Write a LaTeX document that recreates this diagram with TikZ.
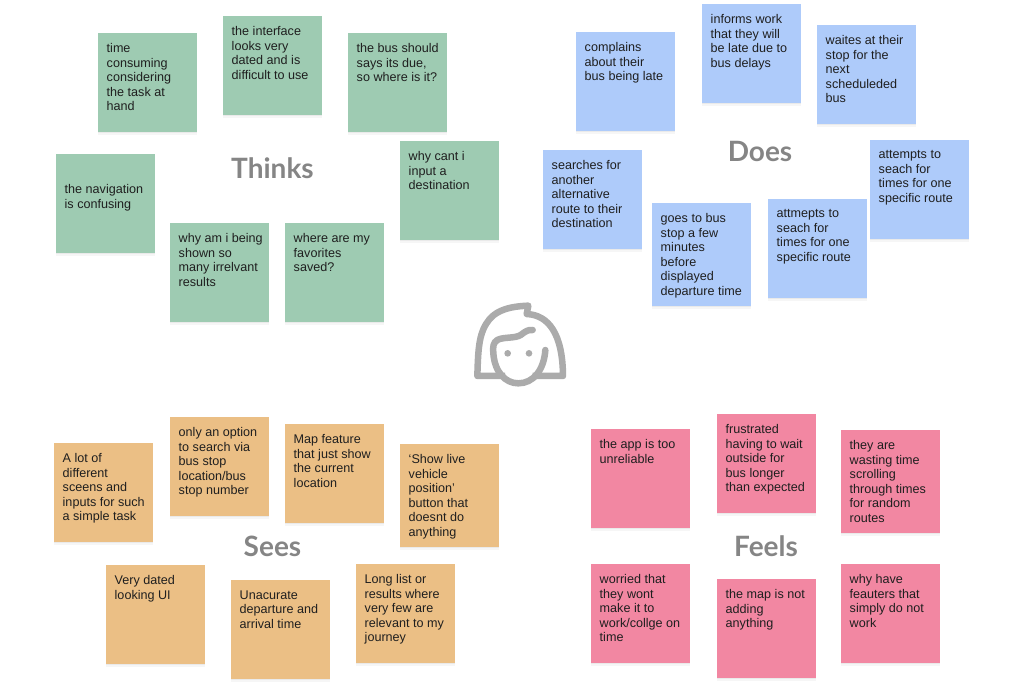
\documentclass[tikz,border=0pt]{standalone}
\usepackage{fontspec}
\setmainfont{Liberation Sans}
\newfontfamily\titlefont{Lato}
\usetikzlibrary{shadows}
\definecolor{gr}{HTML}{9ECBB2}
\definecolor{bl}{HTML}{AECBFA}
\definecolor{orng}{HTML}{EBBF85}
\definecolor{pnk}{HTML}{F287A2}
\definecolor{ttl}{HTML}{858585}
\definecolor{ic}{HTML}{ABABAB}
\tikzset{
  sticky/.style={anchor=north west,minimum width=99pt,minimum height=99pt,inner sep=0pt,
    drop shadow={opacity=.07,shadow xshift=0pt,shadow yshift=-2.5pt},
    drop shadow={opacity=.10,shadow xshift=0pt,shadow yshift=-1pt}},
  tallnote/.style={minimum height=103pt},
  stickytext/.style={anchor=north west,inner sep=0pt,align=left,text=black!88,
    font=\fontsize{12.6pt}{14.5pt}\selectfont},
  heading/.style={text=ttl,font=\titlefont\bfseries\fontsize{28pt}{30pt}\selectfont},
  iconline/.style={draw=ic,line width=6.5pt,line join=round,line cap=round}
}
\newcommand{\note}[6][0]{%
  \node[sticky,fill=#5] (#2) at (#3,#4) {};
  \node[stickytext] (#2t) at ([xshift=8.5pt,yshift=-10.5pt-#1pt]#2.north west) {#6};
}
\begin{document}
\begin{tikzpicture}[x=1pt,y=-1pt]
\useasboundingbox (0,0) rectangle (1024,682);
% Thinks
\note{ga}{98}{33}{gr}{time\\consuming\\considering\\the task at\\hand}
\note{gb}{223}{16}{gr}{the interface\\looks very\\dated and is\\difficult to use}
\note{gc}{348}{33}{gr}{the bus should\\says its due,\\so where is it?}
\note[20]{gd}{56}{154}{gr}{the navigation\\is confusing}
\note{ge}{400}{141}{gr}{why cant i\\input a\\destination}
\note{gf}{170}{223}{gr}{why am i being\\shown so\\many irrelvant\\results}
\note{gg}{285}{223}{gr}{where are my\\favorites\\saved?}
% Does
\note{ba}{576}{32}{bl}{complains\\about their\\bus being late}
\note{bb}{702}{4}{bl}{informs work\\that they will\\be late due to\\bus delays}
\note{bc}{817}{25}{bl}{waites at their\\stop for the\\next\\scheduleded\\bus}
\note{bd}{543}{150}{bl}{searches for\\another\\alternative\\route to their\\destination}
\note{be}{652}{203}{bl,tallnote}{goes to bus\\stop a few\\minutes\\before\\displayed\\departure time}
\note{bf}{768}{199}{bl}{attmepts to\\seach for\\times for one\\specific route}
\note{bg}{870}{140}{bl}{attempts to\\seach for\\times for one\\specific route}
% Sees
\note{oa}{54}{443}{orng}{A lot of\\different\\sceens and\\inputs for such\\a simple task}
\note{ob}{170}{417}{orng}{only an option\\to search via\\bus stop\\location/bus\\stop number}
\note{oc}{285}{424}{orng}{Map feature\\that just show\\the current\\location}
\note{od}{400}{444}{orng,tallnote}{‘Show live\\vehicle\\position’\\button that\\doesnt do\\anything}
\note{oe}{106}{565}{orng}{Very dated\\looking UI}
\note{of}{231}{580}{orng}{Unacurate\\departure and\\arrival time}
\note{og}{356}{564}{orng}{Long list or\\results where\\very few are\\relevant to my\\journey}
% Feels
\note{pa}{591}{429}{pnk}{the app is too\\unreliable}
\note{pb}{717}{414}{pnk}{frustrated\\having to wait\\outside for\\bus longer\\than expected}
\note{pc}{841}{430}{pnk,tallnote}{they are\\wasting time\\scrolling\\through times\\for random\\routes}
\note{pd}{591}{564}{pnk}{worried that\\they wont\\make it to\\work/collge on\\time}
\note{pe}{717}{579}{pnk}{the map is not\\adding\\anything}
\note{pf}{841}{564}{pnk}{why have\\feauters that\\simply do not\\work}
% headings
\node[heading] (thinks) at (272.5,168) {Thinks};
\node[heading] (does) at (760,151) {Does};
\node[heading] (sees) at (272.5,546) {Sees};
\node[heading] (feels) at (766,546) {Feels};
% icon
\begin{scope}[shift={(460,290)},x=0.3333pt,y=-0.3333pt]
  \draw[iconline,line cap=butt] (135,258) -- (52,258)
    .. controls (54,190) and (56,150) .. (70,118)
    .. controls (90,72) and (125,50) .. (205,47)
    -- (200,72)
    .. controls (265,75) and (308,130) .. (309,258) -- (218,258);
  \draw[iconline] (218,120)
    .. controls (205,118) and (195,125) .. (182,135)
    .. controls (165,146) and (130,140) .. (112,150)
    .. controls (100,157) and (98,170) .. (100,190)
    .. controls (104,245) and (135,280) .. (175,280)
    .. controls (220,280) and (252,240) .. (256,180);
  \fill[ic] (143,190) circle[radius=10];
  \fill[ic] (207,190) circle[radius=10];
\end{scope}
\end{tikzpicture}
\end{document}
